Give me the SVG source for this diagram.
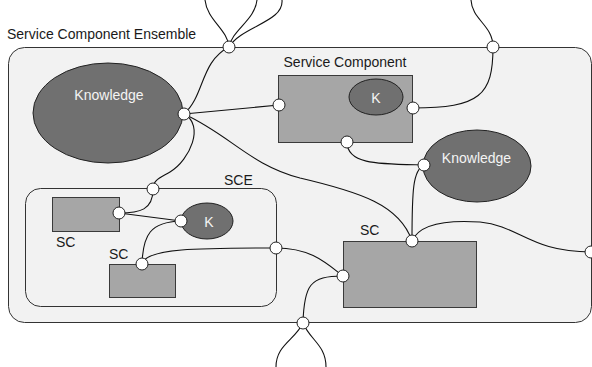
<svg xmlns="http://www.w3.org/2000/svg" width="592" height="367" viewBox="0 0 592 367">
<style>
text{font-family:"Liberation Sans",Arial,sans-serif;font-size:14px;fill:#1a1a1a}
.w{fill:#f4f4f4}
.box{fill:#a6a6a6;stroke:#3a3a3a;stroke-width:1}
.kn{fill:#707070;stroke:#222;stroke-width:1}
.cont{fill:#f2f2f2;stroke:#333;stroke-width:1}
.c{fill:none;stroke:#111;stroke-width:1.1}
.p{fill:#fff;stroke:#222;stroke-width:1}
</style>
<rect width="592" height="367" fill="#fff"/>
<g id="ensemble">
<rect class="cont" x="8.5" y="47.5" width="583" height="275" rx="16"/>
<text x="7" y="38.5">Service Component Ensemble</text>
</g>
<g id="sce">
<rect class="cont" x="25.5" y="188.5" width="251" height="118" rx="15"/>
<text x="224" y="185">SCE</text>
</g>
<g id="knowledge1">
<ellipse class="kn" cx="108" cy="113" rx="75" ry="50"/>
<text class="w" x="109" y="100" text-anchor="middle">Knowledge</text>
</g>
<g id="service-component">
<rect class="box" x="278.5" y="75.5" width="134" height="67"/>
<text x="345" y="67" text-anchor="middle">Service Component</text>
<ellipse class="kn" cx="376" cy="97" rx="27" ry="18"/>
<text class="w" x="376" y="103" text-anchor="middle">K</text>
</g>
<g id="knowledge2">
<ellipse class="kn" cx="477" cy="166" rx="54" ry="36"/>
<text class="w" x="476.5" y="163" text-anchor="middle">Knowledge</text>
</g>
<g id="sc1">
<rect class="box" x="52.5" y="197.5" width="67" height="34"/>
<text x="56" y="247">SC</text>
</g>
<g id="k-inner">
<ellipse class="kn" cx="207" cy="221" rx="26" ry="18"/>
<text class="w" x="209" y="227" text-anchor="middle">K</text>
</g>
<g id="sc2">
<rect class="box" x="109.5" y="264.5" width="66" height="33"/>
<text x="109" y="259">SC</text>
</g>
<g id="sc3">
<rect class="box" x="343.5" y="241.5" width="133" height="66"/>
<text x="360" y="235">SC</text>
</g>
<g id="connectors">
<path class="c" d="M205,0 C207,20 228,30 229,47"/>
<path class="c" d="M257,0 C255,20 232,30 229,47"/>
<path class="c" d="M282,0 C284,22 242,26 229,47"/>
<path class="c" d="M229,47 C200,62 205,95 184,114"/>
<path class="c" d="M184,114 L279,105"/>
<path class="c" d="M184,114 C230,135 250,165 300,178 C360,192 400,205 412,241"/>
<path class="c" d="M184,114 C205,125 190,160 170,172 C160,178 153,180 153,189"/>
<path class="c" d="M153,189 C153,210 140,213 119,213"/>
<path class="c" d="M119,213 L181,221"/>
<path class="c" d="M181,221 C150,222 143,235 142,264"/>
<path class="c" d="M276,248 C200,248 145,248 142,264"/>
<path class="c" d="M276,248 C310,248 325,262 343,276"/>
<path class="c" d="M343,276 C310,276 304,285 303,323"/>
<path class="c" d="M303,323 C295,340 276,345 276,367"/>
<path class="c" d="M303,323 C310,340 326,345 326,367"/>
<path class="c" d="M413,108 C480,108 493,95 493,47"/>
<path class="c" d="M493,47 C493,25 472,20 471,0"/>
<path class="c" d="M347,142 C347,165 380,164 424,165"/>
<path class="c" d="M424,165 C413,170 412,190 412,241"/>
<path class="c" d="M412,241 C420,222 450,220 480,222 C520,226 530,252 591,252"/>
</g>
<g id="ports">
<circle class="p" cx="229" cy="47" r="6"/>
<circle class="p" cx="493" cy="47" r="6"/>
<circle class="p" cx="184" cy="114" r="6"/>
<circle class="p" cx="279" cy="105" r="6"/>
<circle class="p" cx="413" cy="108" r="6"/>
<circle class="p" cx="347" cy="142" r="6"/>
<circle class="p" cx="424" cy="165" r="6"/>
<circle class="p" cx="153" cy="189" r="6"/>
<circle class="p" cx="119" cy="213" r="6"/>
<circle class="p" cx="181" cy="221" r="6"/>
<circle class="p" cx="142" cy="264" r="6"/>
<circle class="p" cx="276" cy="248" r="6"/>
<circle class="p" cx="412" cy="241" r="6"/>
<circle class="p" cx="343" cy="276" r="6"/>
<circle class="p" cx="591" cy="252" r="6"/>
<circle class="p" cx="303" cy="323" r="6"/>
</g>
</svg>
